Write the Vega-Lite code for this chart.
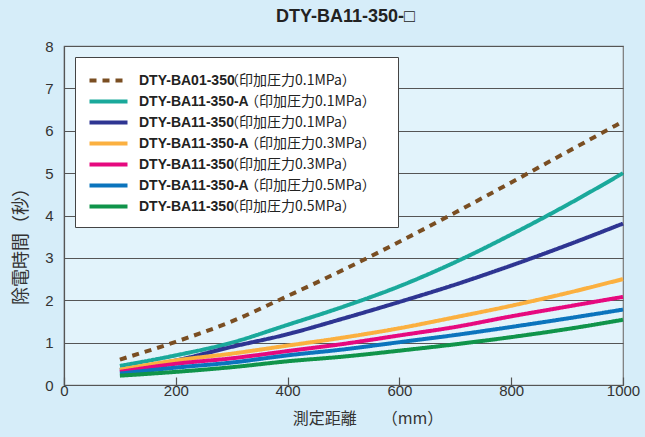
{
  "$schema": "https://vega.github.io/schema/vega-lite/v6.json",
  "width": 559,
  "height": 339,
  "autosize": {"type": "none"},
  "padding": {"left": 64, "top": 46, "right": 22, "bottom": 52},
  "background": "#d6edf9",
  "title": {"text": "DTY-BA11-350-□", "font": "Liberation Sans", "fontSize": 18, "fontWeight": "bold", "color": "#222", "offset": 13, "anchor": "middle", "frame": "group", "dx": 2},
  "config": {
    "view": {"fill": "#e2f3fb", "stroke": "#777", "strokeWidth": 1.2},
    "font": "Liberation Sans"
  },
  "data": {"values": [
    {"s": "DTY-BA01-350（印加圧力0.1MPa）", "x": 100, "y": 0.6},
    {"s": "DTY-BA01-350（印加圧力0.1MPa）", "x": 200, "y": 1.02},
    {"s": "DTY-BA01-350（印加圧力0.1MPa）", "x": 300, "y": 1.5},
    {"s": "DTY-BA01-350（印加圧力0.1MPa）", "x": 400, "y": 2.1},
    {"s": "DTY-BA01-350（印加圧力0.1MPa）", "x": 500, "y": 2.72},
    {"s": "DTY-BA01-350（印加圧力0.1MPa）", "x": 600, "y": 3.38},
    {"s": "DTY-BA01-350（印加圧力0.1MPa）", "x": 700, "y": 4.07},
    {"s": "DTY-BA01-350（印加圧力0.1MPa）", "x": 800, "y": 4.78},
    {"s": "DTY-BA01-350（印加圧力0.1MPa）", "x": 900, "y": 5.5},
    {"s": "DTY-BA01-350（印加圧力0.1MPa）", "x": 1000, "y": 6.22},
    {"s": "DTY-BA11-350-A（印加圧力0.1MPa）", "x": 100, "y": 0.45},
    {"s": "DTY-BA11-350-A（印加圧力0.1MPa）", "x": 200, "y": 0.7},
    {"s": "DTY-BA11-350-A（印加圧力0.1MPa）", "x": 300, "y": 1.0},
    {"s": "DTY-BA11-350-A（印加圧力0.1MPa）", "x": 400, "y": 1.42},
    {"s": "DTY-BA11-350-A（印加圧力0.1MPa）", "x": 500, "y": 1.85},
    {"s": "DTY-BA11-350-A（印加圧力0.1MPa）", "x": 600, "y": 2.33},
    {"s": "DTY-BA11-350-A（印加圧力0.1MPa）", "x": 700, "y": 2.9},
    {"s": "DTY-BA11-350-A（印加圧力0.1MPa）", "x": 800, "y": 3.55},
    {"s": "DTY-BA11-350-A（印加圧力0.1MPa）", "x": 900, "y": 4.25},
    {"s": "DTY-BA11-350-A（印加圧力0.1MPa）", "x": 1000, "y": 5.0},
    {"s": "DTY-BA11-350（印加圧力0.1MPa）", "x": 100, "y": 0.35},
    {"s": "DTY-BA11-350（印加圧力0.1MPa）", "x": 200, "y": 0.58},
    {"s": "DTY-BA11-350（印加圧力0.1MPa）", "x": 300, "y": 0.9},
    {"s": "DTY-BA11-350（印加圧力0.1MPa）", "x": 400, "y": 1.2},
    {"s": "DTY-BA11-350（印加圧力0.1MPa）", "x": 500, "y": 1.57},
    {"s": "DTY-BA11-350（印加圧力0.1MPa）", "x": 600, "y": 1.96},
    {"s": "DTY-BA11-350（印加圧力0.1MPa）", "x": 700, "y": 2.37},
    {"s": "DTY-BA11-350（印加圧力0.1MPa）", "x": 800, "y": 2.82},
    {"s": "DTY-BA11-350（印加圧力0.1MPa）", "x": 900, "y": 3.3},
    {"s": "DTY-BA11-350（印加圧力0.1MPa）", "x": 1000, "y": 3.81},
    {"s": "DTY-BA11-350-A（印加圧力0.3MPa）", "x": 100, "y": 0.36},
    {"s": "DTY-BA11-350-A（印加圧力0.3MPa）", "x": 200, "y": 0.58},
    {"s": "DTY-BA11-350-A（印加圧力0.3MPa）", "x": 300, "y": 0.74},
    {"s": "DTY-BA11-350-A（印加圧力0.3MPa）", "x": 400, "y": 0.93},
    {"s": "DTY-BA11-350-A（印加圧力0.3MPa）", "x": 500, "y": 1.12},
    {"s": "DTY-BA11-350-A（印加圧力0.3MPa）", "x": 600, "y": 1.34},
    {"s": "DTY-BA11-350-A（印加圧力0.3MPa）", "x": 700, "y": 1.6},
    {"s": "DTY-BA11-350-A（印加圧力0.3MPa）", "x": 800, "y": 1.87},
    {"s": "DTY-BA11-350-A（印加圧力0.3MPa）", "x": 900, "y": 2.17},
    {"s": "DTY-BA11-350-A（印加圧力0.3MPa）", "x": 1000, "y": 2.5},
    {"s": "DTY-BA11-350（印加圧力0.3MPa）", "x": 100, "y": 0.31},
    {"s": "DTY-BA11-350（印加圧力0.3MPa）", "x": 200, "y": 0.5},
    {"s": "DTY-BA11-350（印加圧力0.3MPa）", "x": 300, "y": 0.63},
    {"s": "DTY-BA11-350（印加圧力0.3MPa）", "x": 400, "y": 0.8},
    {"s": "DTY-BA11-350（印加圧力0.3MPa）", "x": 500, "y": 0.97},
    {"s": "DTY-BA11-350（印加圧力0.3MPa）", "x": 600, "y": 1.17},
    {"s": "DTY-BA11-350（印加圧力0.3MPa）", "x": 700, "y": 1.37},
    {"s": "DTY-BA11-350（印加圧力0.3MPa）", "x": 800, "y": 1.62},
    {"s": "DTY-BA11-350（印加圧力0.3MPa）", "x": 900, "y": 1.85},
    {"s": "DTY-BA11-350（印加圧力0.3MPa）", "x": 1000, "y": 2.08},
    {"s": "DTY-BA11-350-A（印加圧力0.5MPa）", "x": 100, "y": 0.27},
    {"s": "DTY-BA11-350-A（印加圧力0.5MPa）", "x": 200, "y": 0.41},
    {"s": "DTY-BA11-350-A（印加圧力0.5MPa）", "x": 300, "y": 0.53},
    {"s": "DTY-BA11-350-A（印加圧力0.5MPa）", "x": 400, "y": 0.7},
    {"s": "DTY-BA11-350-A（印加圧力0.5MPa）", "x": 500, "y": 0.84},
    {"s": "DTY-BA11-350-A（印加圧力0.5MPa）", "x": 600, "y": 1.01},
    {"s": "DTY-BA11-350-A（印加圧力0.5MPa）", "x": 700, "y": 1.18},
    {"s": "DTY-BA11-350-A（印加圧力0.5MPa）", "x": 800, "y": 1.37},
    {"s": "DTY-BA11-350-A（印加圧力0.5MPa）", "x": 900, "y": 1.57},
    {"s": "DTY-BA11-350-A（印加圧力0.5MPa）", "x": 1000, "y": 1.78},
    {"s": "DTY-BA11-350（印加圧力0.5MPa）", "x": 100, "y": 0.22},
    {"s": "DTY-BA11-350（印加圧力0.5MPa）", "x": 200, "y": 0.31},
    {"s": "DTY-BA11-350（印加圧力0.5MPa）", "x": 300, "y": 0.42},
    {"s": "DTY-BA11-350（印加圧力0.5MPa）", "x": 400, "y": 0.56},
    {"s": "DTY-BA11-350（印加圧力0.5MPa）", "x": 500, "y": 0.67},
    {"s": "DTY-BA11-350（印加圧力0.5MPa）", "x": 600, "y": 0.81},
    {"s": "DTY-BA11-350（印加圧力0.5MPa）", "x": 700, "y": 0.96},
    {"s": "DTY-BA11-350（印加圧力0.5MPa）", "x": 800, "y": 1.13},
    {"s": "DTY-BA11-350（印加圧力0.5MPa）", "x": 900, "y": 1.32},
    {"s": "DTY-BA11-350（印加圧力0.5MPa）", "x": 1000, "y": 1.54}
  ]},
  "mark": {"type": "line", "strokeWidth": 4, "interpolate": "monotone"},
  "encoding": {
    "x": {
      "field": "x", "type": "quantitative",
      "scale": {"domain": [0, 1000], "nice": false},
      "axis": {
        "values": [0, 200, 400, 600, 800, 1000], "format": "d",
        "title": "\u2800\u2800\u2800\u2800測定距離\u00a0\u00a0\u00a0\u00a0\u00a0\u00a0\u00a0（mm）",
        "titleFont": "Noto Sans CJK JP", "titleFontSize": 16, "titleFontWeight": "normal", "titleColor": "#333", "titlePadding": 12,
        "labelFont": "Liberation Sans", "labelFontSize": 15, "labelColor": "#333", "labelPadding": 6,
        "grid": false, "domainColor": "#555", "domainWidth": 1.2,
        "tickColor": "#555", "tickSize": -8, "tickWidth": 1.2, "labelFlush": false
      }
    },
    "y": {
      "field": "y", "type": "quantitative",
      "scale": {"domain": [0, 8], "nice": false},
      "axis": {
        "values": [0, 1, 2, 3, 4, 5, 6, 7, 8],
        "title": "除電時間（秒）\u2800\u2800\u2800\u2800",
        "titleFont": "Noto Sans CJK JP", "titleFontSize": 18, "titleFontWeight": "normal", "titleColor": "#333", "titlePadding": 14,
        "labelFont": "Liberation Sans", "labelFontSize": 15, "labelColor": "#333", "labelPadding": 11,
        "grid": true, "gridColor": "#555", "gridWidth": 1.2,
        "domainColor": "#555", "domainWidth": 1.2, "ticks": false
      }
    },
    "color": {
      "field": "s", "type": "nominal",
      "scale": {
        "domain": ["DTY-BA01-350（印加圧力0.1MPa）", "DTY-BA11-350-A（印加圧力0.1MPa）", "DTY-BA11-350（印加圧力0.1MPa）", "DTY-BA11-350-A（印加圧力0.3MPa）", "DTY-BA11-350（印加圧力0.3MPa）", "DTY-BA11-350-A（印加圧力0.5MPa）", "DTY-BA11-350（印加圧力0.5MPa）"],
        "range": ["#7a4e22", "#1aa99b", "#2e3592", "#fbb040", "#e6097f", "#0b74bd", "#10944a"]
      },
      "legend": {
        "title": null, "orient": "none", "legendX": 11, "legendY": 11,
        "fillColor": "#ffffff", "strokeColor": "#444", "padding": 12,
        "symbolType": "M-2,0H2", "symbolSize": 361, "symbolStrokeWidth": 4, "symbolOffset": 10,
        "labelExpr": "(slice(split(datum.label, '（')[0], -1) == 'A' ? '\u2800\u2800' : '') + '（' + split(datum.label, '（')[1] + '\u2800'",
        "labelFont": "Noto Sans CJK JP", "labelFontSize": 14, "labelFontWeight": "normal", "labelColor": "#222",
        "rowPadding": 1, "labelOffset": 105, "labelLimit": 400
      }
    },
    "strokeDash": {
      "field": "s", "type": "nominal",
      "scale": {
        "domain": ["DTY-BA01-350（印加圧力0.1MPa）", "DTY-BA11-350-A（印加圧力0.1MPa）", "DTY-BA11-350（印加圧力0.1MPa）", "DTY-BA11-350-A（印加圧力0.3MPa）", "DTY-BA11-350（印加圧力0.3MPa）", "DTY-BA11-350-A（印加圧力0.5MPa）", "DTY-BA11-350（印加圧力0.5MPa）"],
        "range": [[7, 6], [1, 0], [1, 0], [1, 0], [1, 0], [1, 0], [1, 0]]
      },
      "legend": {
        "title": null, "orient": "none", "legendX": 11, "legendY": 11,
        "fillColor": "#ffffff", "strokeColor": "#444", "padding": 12,
        "symbolType": "M-2,0H2", "symbolSize": 361, "symbolStrokeWidth": 4, "symbolOffset": 10,
        "labelExpr": "(slice(split(datum.label, '（')[0], -1) == 'A' ? '\u2800\u2800' : '') + '（' + split(datum.label, '（')[1] + '\u2800'",
        "labelFont": "Noto Sans CJK JP", "labelFontSize": 14, "labelFontWeight": "normal", "labelColor": "#222",
        "rowPadding": 1, "labelOffset": 105, "labelLimit": 400
      }
    },
    "opacity": {
      "field": "s", "type": "nominal",
      "scale": {
        "type": "ordinal",
        "domain": ["DTY-BA01-350（印加圧力0.1MPa）", "DTY-BA11-350-A（印加圧力0.1MPa）", "DTY-BA11-350（印加圧力0.1MPa）", "DTY-BA11-350-A（印加圧力0.3MPa）", "DTY-BA11-350（印加圧力0.3MPa）", "DTY-BA11-350-A（印加圧力0.5MPa）", "DTY-BA11-350（印加圧力0.5MPa）", "-"],
        "range": [1, 1, 1, 1, 1, 1, 1, 1]
      },
      "legend": {
        "title": null, "orient": "none", "legendX": 11, "legendY": 11,
        "values": ["DTY-BA01-350（印加圧力0.1MPa）", "DTY-BA11-350-A（印加圧力0.1MPa）", "DTY-BA11-350（印加圧力0.1MPa）", "DTY-BA11-350-A（印加圧力0.3MPa）", "DTY-BA11-350（印加圧力0.3MPa）", "DTY-BA11-350-A（印加圧力0.5MPa）", "DTY-BA11-350（印加圧力0.5MPa）"],
        "padding": 12,
        "symbolType": "M-2,0H2", "symbolSize": 361, "symbolStrokeWidth": 4, "symbolStrokeColor": "transparent", "symbolFillColor": "transparent", "symbolOffset": 10,
        "labelExpr": "split(datum.label, '（')[0]",
        "labelFont": "Liberation Sans", "labelFontSize": 14, "labelFontWeight": "bold", "labelColor": "#222",
        "rowPadding": 1, "labelOffset": 19, "labelLimit": 400
      }
    }
  }
}
